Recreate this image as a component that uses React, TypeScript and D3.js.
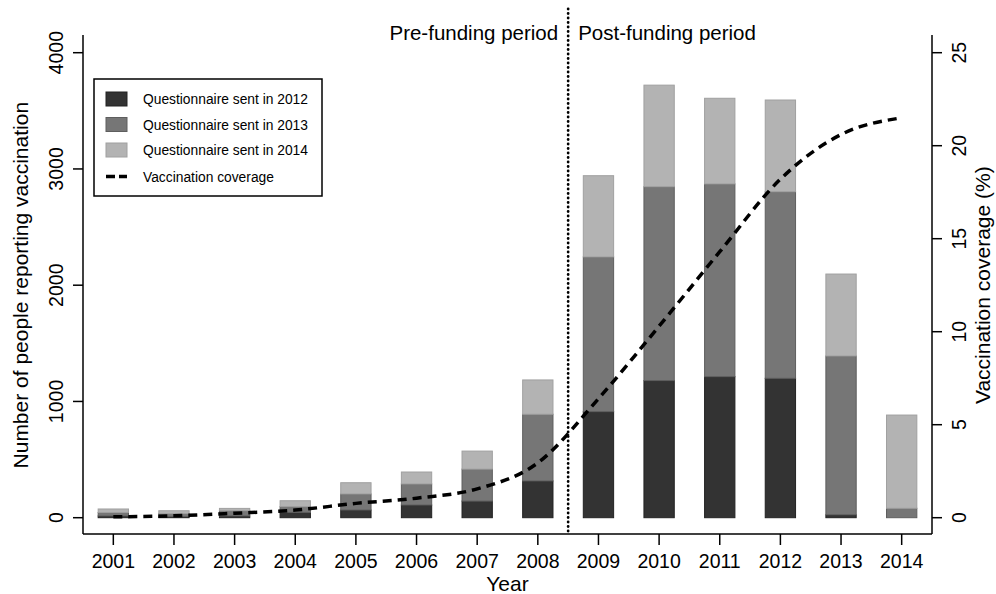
import React from "react";
import * as d3 from "d3";

const years = [2001, 2002, 2003, 2004, 2005, 2006, 2007, 2008, 2009, 2010, 2011, 2012, 2013, 2014];
const sent2012 = [15, 10, 15, 45, 66, 109, 143, 316, 912, 1179, 1213, 1199, 25, 0];
const sent2013 = [30, 25, 45, 50, 138, 181, 275, 574, 1331, 1668, 1658, 1605, 1366, 81];
const sent2014 = [30, 25, 20, 51, 97, 103, 155, 295, 699, 874, 737, 789, 705, 802];
const coverage = [0.05, 0.1, 0.24, 0.41, 0.77, 1.05, 1.55, 2.95, 6.4, 10.3, 14.3, 18.2, 20.6, 21.5];
const leftTicks = [0, 1000, 2000, 3000, 4000];
const rightTicks = [0, 5, 10, 15, 20, 25];
const seriesNames = ["Questionnaire sent in 2012", "Questionnaire sent in 2013", "Questionnaire sent in 2014"];
const seriesFill = ["#333333", "#767676", "#b3b3b3"];
const seriesStroke = ["#222222", "#5e5e5e", "#a0a0a0"];

const W = 996, H = 594;
const X0 = 83, X1 = 932, Y0 = 517.7, Y1 = 52.7, BASE = 534, TOP = 35;
const FONT = "'Liberation Sans', Arial, sans-serif";

export default function App() {
  const x = d3.scaleBand<number>().domain(years).range([X0, X1]).paddingInner(0.5).paddingOuter(0.25);
  const y = d3.scaleLinear().domain([0, 4000]).range([Y0, Y1]);
  const y2 = d3.scaleLinear().domain([0, 25]).range([Y0, Y1]);
  const table = years.map((yr, i) => ({ year: yr, s0: sent2012[i], s1: sent2013[i], s2: sent2014[i] }));
  const stack = d3.stack<any>().keys(["s0", "s1", "s2"])(table);
  const line = d3.line<number>()
    .x((_, i) => (x(years[i]) as number) + x.bandwidth() / 2)
    .y((d) => y2(d))
    .curve(d3.curveMonotoneX);
  const divX = ((x(2008) as number) + (x(2009) as number) + x.bandwidth()) / 2;
  const midX = (X0 + X1) / 2;
  const midY = (Y0 + Y1) / 2;

  return (
    <svg width={W} height={H} style={{ position: "absolute", left: 0, top: 0, background: "#fff" }} fontFamily={FONT}>
      <rect x={0} y={0} width={W} height={H} fill="#fff" />
      {stack.map((layer, k) => (
        <g key={k}>
          {layer.map((d, i) => (
            <rect key={i} x={x(years[i]) as number} width={x.bandwidth()}
              y={y(d[1])} height={Math.max(0, y(d[0]) - y(d[1]))}
              fill={seriesFill[k]} stroke={d[1] - d[0] > 0 ? seriesStroke[k] : "none"} strokeWidth={1} />
          ))}
        </g>
      ))}
      <path d={line(coverage) || ""} fill="none" stroke="#000" strokeWidth={3.5} strokeDasharray="9,6" />
      <line x1={divX} x2={divX} y1={9} y2={BASE} stroke="#000" strokeWidth={2.8} strokeDasharray="0,4.5" strokeLinecap="round" />
      <text x={divX - 10} y={40} textAnchor="end" fontSize={20.5}>Pre-funding period</text>
      <text x={divX + 10} y={40} textAnchor="start" fontSize={20.5}>Post-funding period</text>
      {/* axes */}
      <line x1={X0} x2={X0} y1={TOP} y2={BASE} stroke="#000" strokeWidth={1.5} />
      <line x1={X1} x2={X1} y1={TOP} y2={BASE} stroke="#000" strokeWidth={1.5} />
      <line x1={X0} x2={X1} y1={BASE} y2={BASE} stroke="#000" strokeWidth={1.5} />
      {leftTicks.map((t) => (
        <g key={t}>
          <line x1={X0 - 10} x2={X0} y1={y(t)} y2={y(t)} stroke="#000" strokeWidth={1.5} />
          <text transform={`translate(${X0 - 20},${y(t)}) rotate(-90)`} textAnchor="middle" fontSize={19.5}>{t}</text>
        </g>
      ))}
      {rightTicks.map((t) => (
        <g key={t}>
          <line x1={X1} x2={X1 + 10} y1={y2(t)} y2={y2(t)} stroke="#000" strokeWidth={1.5} />
          <text transform={`translate(${X1 + 34},${y2(t)}) rotate(-90)`} textAnchor="middle" fontSize={19.5}>{t}</text>
        </g>
      ))}
      {years.map((yr) => {
        const cx = (x(yr) as number) + x.bandwidth() / 2;
        return (
          <g key={yr}>
            <line x1={cx} x2={cx} y1={BASE} y2={BASE + 11} stroke="#000" strokeWidth={1.5} />
            <text x={cx} y={568} textAnchor="middle" fontSize={19.5}>{yr}</text>
          </g>
        );
      })}
      <text x={midX} y={591} textAnchor="middle" fontSize={21}>Year</text>
      <text transform={`translate(28,${midY}) rotate(-90)`} textAnchor="middle" fontSize={21}>Number of people reporting vaccination</text>
      <text transform={`translate(990,${midY}) rotate(-90)`} textAnchor="middle" fontSize={21}>Vaccination coverage (%)</text>
      {/* legend */}
      <rect x={94} y={79} width={228} height={117} fill="#fff" stroke="#000" strokeWidth={1.5} />
      {seriesNames.map((n, k) => (
        <g key={n}>
          <rect x={106} y={92 + k * 25.5} width={21} height={14} fill={seriesFill[k]} stroke={seriesStroke[k]} strokeWidth={1} />
          <text x={143} y={99 + k * 25.5 + 5} fontSize={13.8}>{n}</text>
        </g>
      ))}
      <line x1={106} x2={127} y1={176.5} y2={176.5} stroke="#000" strokeWidth={3.5} strokeDasharray="9,4" />
      <text x={143} y={181.5} fontSize={13.8}>Vaccination coverage</text>
    </svg>
  );
}
